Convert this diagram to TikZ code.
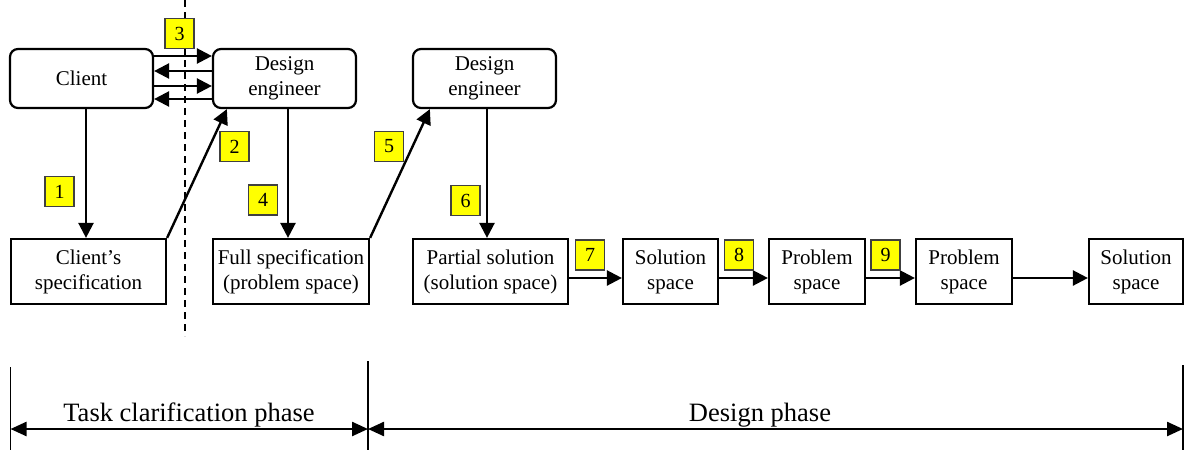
\documentclass[tikz,border=0pt]{standalone}
\usepackage{fontspec}
\setmainfont{Liberation Serif}
\usetikzlibrary{arrows.meta,calc}
\definecolor{tagyellow}{RGB}{255,255,0}
\tikzset{
  box/.style={draw, line width=2.2pt, inner sep=0pt, align=center,
    font=\fontsize{21}{25}\selectfont},
  rbox/.style={box, rounded corners=8pt},
  tag/.style={draw=black!75, line width=1.3pt, fill=tagyellow, inner sep=0pt,
    minimum width=29pt, minimum height=30pt, font=\fontsize{20}{22}\selectfont},
  flow/.style={line width=2.4pt, -{Triangle[length=15pt,width=15pt]}},
  phase/.style={line width=2.4pt, {Triangle[length=16pt,width=14pt]}-{Triangle[length=16pt,width=14pt]}},
  phasetext/.style={font=\fontsize{26.5}{30}\selectfont, anchor=base},
}
\begin{document}
\begin{tikzpicture}[x=1pt, y=-1pt]
\useasboundingbox (0,0) rectangle (1185,450);

% actors
\node[rbox, minimum width=143pt, minimum height=59pt] (client) at (81.5,78.5) {Client};
\node[rbox, minimum width=143pt, minimum height=59pt] (de1) at (284.5,78.5) {Design\\engineer};
\node[rbox, minimum width=143pt, minimum height=59pt] (de2) at (484.5,78.5) {Design\\engineer};

% documents and spaces
\node[box, minimum width=155pt, minimum height=65pt] (cspec) at (88.5,271.5) {Client's\\specification};
\node[box, minimum width=156pt, minimum height=65pt] (fspec) at (291,271.5) {Full specification\\(problem space)};
\node[box, minimum width=155pt, minimum height=65pt] (psol) at (490.5,271.5) {Partial solution\\(solution space)};
\node[box, minimum width=95pt, minimum height=65pt] (sol1) at (670.5,271.5) {Solution\\space};
\node[box, minimum width=96pt, minimum height=65pt] (prob1) at (817,271.5) {Problem\\space};
\node[box, minimum width=96pt, minimum height=65pt] (prob2) at (964,271.5) {Problem\\space};
\node[box, minimum width=94pt, minimum height=65pt] (sol2) at (1136,271.5) {Solution\\space};

% boundary between client and engineer
\coordinate (dtop) at (185,0);
\coordinate (dbot) at (185,336);
\draw[line width=1.5pt, dash pattern=on 7pt off 5pt] (dtop) -- (dbot);

% dialogue between client and engineer
\draw[flow] ([yshift=22.5pt]client.east) -- ([yshift=22.5pt]de1.west);
\draw[flow] ([yshift=7.5pt]de1.west) -- ([yshift=7.5pt]client.east);
\draw[flow] ([yshift=-7.5pt]client.east) -- ([yshift=-7.5pt]de1.west);
\draw[flow] ([yshift=-20.5pt]de1.west) -- ([yshift=-20.5pt]client.east);

% vertical and diagonal flows
\draw[flow] ([xshift=4.5pt]client.south) -- ([xshift=4.5pt]client.south |- cspec.north);
\draw[flow] (cspec.north east) -- ([xshift=15pt]de1.south west);
\draw[flow] ([xshift=3.5pt]de1.south) -- ([xshift=3.5pt]de1.south |- fspec.north);
\draw[flow] (fspec.north east) -- ([xshift=18pt]de2.south west);
\draw[flow] ([xshift=2.5pt]de2.south) -- ([xshift=2.5pt]de2.south |- psol.north);

% co-evolution chain
\draw[flow] ([yshift=-6.5pt]psol.east) -- ([yshift=-6.5pt]sol1.west);
\draw[flow] ([yshift=-6.5pt]sol1.east) -- ([yshift=-6.5pt]prob1.west);
\draw[flow] ([yshift=-6.5pt]prob1.east) -- ([yshift=-6.5pt]prob2.west);
\draw[flow] ([yshift=-6.5pt]prob2.east) -- ([yshift=-6.5pt]sol2.west);

% step numbers
\node[tag] (t1) at (59.5,191.5) {1};
\node[tag] (t2) at (234.5,146.5) {2};
\node[tag] (t3) at (179.5,33.5) {3};
\node[tag] (t4) at (263,200) {4};
\node[tag] (t5) at (389,146.5) {5};
\node[tag] (t6) at (465.5,200.5) {6};
\node[tag] (t7) at (590,255) {7};
\node[tag] (t8) at (739,255) {8};
\node[tag] (t9) at (885.5,255) {9};

% phases
\coordinate (pl) at (10.5,429);
\coordinate (pm) at (368,429);
\coordinate (pr) at (1183,429);
\coordinate (pltop) at (10.5,367);
\coordinate (pmtop) at (368,361);
\coordinate (prtop) at (1183,365);
\coordinate (plbot) at (10.5,450);
\coordinate (pmbot) at (368,450);
\coordinate (prbot) at (1183,450);
\draw[line width=1.2pt] (pltop) -- (plbot);
\draw[line width=1.2pt] (pmtop) -- (pmbot);
\draw[line width=1.2pt] (prtop) -- (prbot);
\draw[phase] (pl) -- (pm);
\draw[phase] (pm) -- (pr);
\node[phasetext] (task) at (189,421) {Task clarification phase};
\node[phasetext] (design) at (760,421) {Design phase};
\end{tikzpicture}
\end{document}
